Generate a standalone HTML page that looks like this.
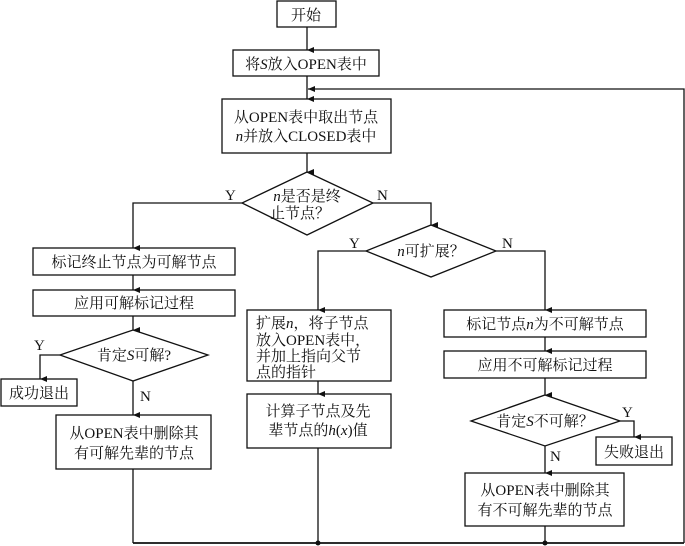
<!DOCTYPE html>
<html><head><meta charset="utf-8"><style>
html,body{margin:0;padding:0;background:#fff;}
svg{display:block;}
text{font-family:"Liberation Serif","Noto Serif CJK SC",serif;font-size:15px;fill:#111;}
</style></head><body>
<svg width="685" height="546" viewBox="0 0 685 546" xmlns="http://www.w3.org/2000/svg">
<defs><marker id="a" markerWidth="8" markerHeight="8" refX="4" refY="7" orient="auto-start-reverse" markerUnits="userSpaceOnUse"><path d="M1,0 L4,7 L7,0 Z" fill="#111"/></marker>
<marker id="r" markerWidth="8" markerHeight="8" refX="7" refY="4" orient="0" markerUnits="userSpaceOnUse"><path d="M0,1 L7,4 L0,7 Z" fill="#111"/></marker>
<marker id="l" markerWidth="8" markerHeight="8" refX="0" refY="4" markerUnits="userSpaceOnUse"><path d="M7,1 L0,4 L7,7 Z" fill="#111"/></marker></defs>
<g fill="none" stroke="#111" stroke-width="1.3">
<rect x="277" y="1" width="59" height="26"/>
<rect x="233" y="50" width="146" height="26"/>
<rect x="222" y="99" width="169" height="54"/>
<polygon points="307,172 373,203 307,235 242,203"/>
<polygon points="431,225 496,251 431,277 366,251"/>
<rect x="33" y="248" width="202" height="27"/>
<rect x="33" y="290" width="202" height="26"/>
<polygon points="133,330 208,355 133,381 60,355"/>
<rect x="1" y="379" width="76" height="27"/>
<rect x="56" y="415" width="155" height="54"/>
<rect x="247" y="310" width="144" height="71"/>
<rect x="247" y="394" width="144" height="54"/>
<rect x="444" y="310" width="202" height="27"/>
<rect x="444" y="351" width="202" height="27"/>
<polygon points="545,395 620,421 545,446 471,421"/>
<rect x="596" y="437" width="76" height="28"/>
<rect x="465" y="473" width="159" height="53"/>
<line x1="307" y1="27" x2="307" y2="50" marker-end="url(#a)"/>
<line x1="307" y1="76" x2="307" y2="99" marker-end="url(#a)"/>
<line x1="307" y1="153" x2="307" y2="172" marker-end="url(#a)"/>
<polyline points="684,543 684,89 308,89" marker-end="url(#l)"/>
<polyline points="242,203 133,203 133,248" marker-end="url(#a)"/>
<polyline points="373,203 431,203 431,225" marker-end="url(#a)"/>
<polyline points="366,251 318,251 318,310" marker-end="url(#a)"/>
<polyline points="496,251 545,251 545,310" marker-end="url(#a)"/>
<line x1="133" y1="275" x2="133" y2="290" marker-end="url(#a)"/>
<line x1="133" y1="316" x2="133" y2="330" marker-end="url(#a)"/>
<polyline points="60,355 40,355 40,379" marker-end="url(#a)"/>
<line x1="133" y1="381" x2="133" y2="415" marker-end="url(#a)"/>
<line x1="318" y1="381" x2="318" y2="394" marker-end="url(#a)"/>
<line x1="545" y1="337" x2="545" y2="351" marker-end="url(#a)"/>
<line x1="545" y1="378" x2="545" y2="395" marker-end="url(#a)"/>
<polyline points="620,421 634,421 634,437" marker-end="url(#a)"/>
<line x1="545" y1="446" x2="545" y2="473" marker-end="url(#a)"/>
<line x1="133" y1="469" x2="133" y2="543"/>
<line x1="318" y1="448" x2="318" y2="543"/>
<line x1="545" y1="526" x2="545" y2="543"/>
<line x1="133" y1="543" x2="684" y2="543" stroke-width="1.8"/>
</g>
<circle cx="318" cy="543" r="2.5" fill="#111"/><circle cx="545" cy="543" r="2.5" fill="#111"/>
<text x="306" y="20" text-anchor="middle">开始</text>
<text x="306" y="69" text-anchor="middle">将<tspan font-style="italic">S</tspan>放入OPEN表中</text>
<text x="306" y="122" text-anchor="middle">从OPEN表中取出节点</text>
<text x="306" y="141" text-anchor="middle"><tspan font-style="italic">n</tspan>并放入CLOSED表中</text>
<text x="307" y="201" text-anchor="middle"><tspan font-style="italic">n</tspan>是否是终</text>
<text x="300" y="218" text-anchor="middle">止节点？</text>
<text x="225" y="200">Y</text><text x="377" y="200">N</text>
<text x="431" y="256" text-anchor="middle"><tspan font-style="italic">n</tspan>可扩展？</text>
<text x="349" y="248">Y</text><text x="502" y="248">N</text>
<text x="134" y="267" text-anchor="middle">标记终止节点为可解节点</text>
<text x="134" y="308" text-anchor="middle">应用可解标记过程</text>
<text x="134" y="360" text-anchor="middle">肯定<tspan font-style="italic">S</tspan>可解?</text>
<text x="34" y="350">Y</text><text x="140" y="401">N</text>
<text x="39" y="398" text-anchor="middle">成功退出</text>
<text x="134" y="438" text-anchor="middle">从OPEN表中删除其</text>
<text x="134" y="458" text-anchor="middle">有可解先辈的节点</text>
<text x="256" y="328">扩展<tspan font-style="italic">n</tspan>，将子节点</text>
<text x="256" y="345">放入OPEN表中，</text>
<text x="256" y="361">并加上指向父节</text>
<text x="256" y="377">点的指针</text>
<text x="318" y="416" text-anchor="middle">计算子节点及先</text>
<text x="318" y="435" text-anchor="middle">辈节点的<tspan font-style="italic">h</tspan>(<tspan font-style="italic">x</tspan>)值</text>
<text x="545" y="329" text-anchor="middle">标记节点<tspan font-style="italic">n</tspan>为不可解节点</text>
<text x="545" y="370" text-anchor="middle">应用不可解标记过程</text>
<text x="545" y="426" text-anchor="middle">肯定<tspan font-style="italic">S</tspan>不可解？</text>
<text x="622" y="417">Y</text><text x="550" y="461">N</text>
<text x="634" y="457" text-anchor="middle">失败退出</text>
<text x="545" y="495" text-anchor="middle">从OPEN表中删除其</text>
<text x="545" y="515" text-anchor="middle">有不可解先辈的节点</text>
</svg>
</body></html>
